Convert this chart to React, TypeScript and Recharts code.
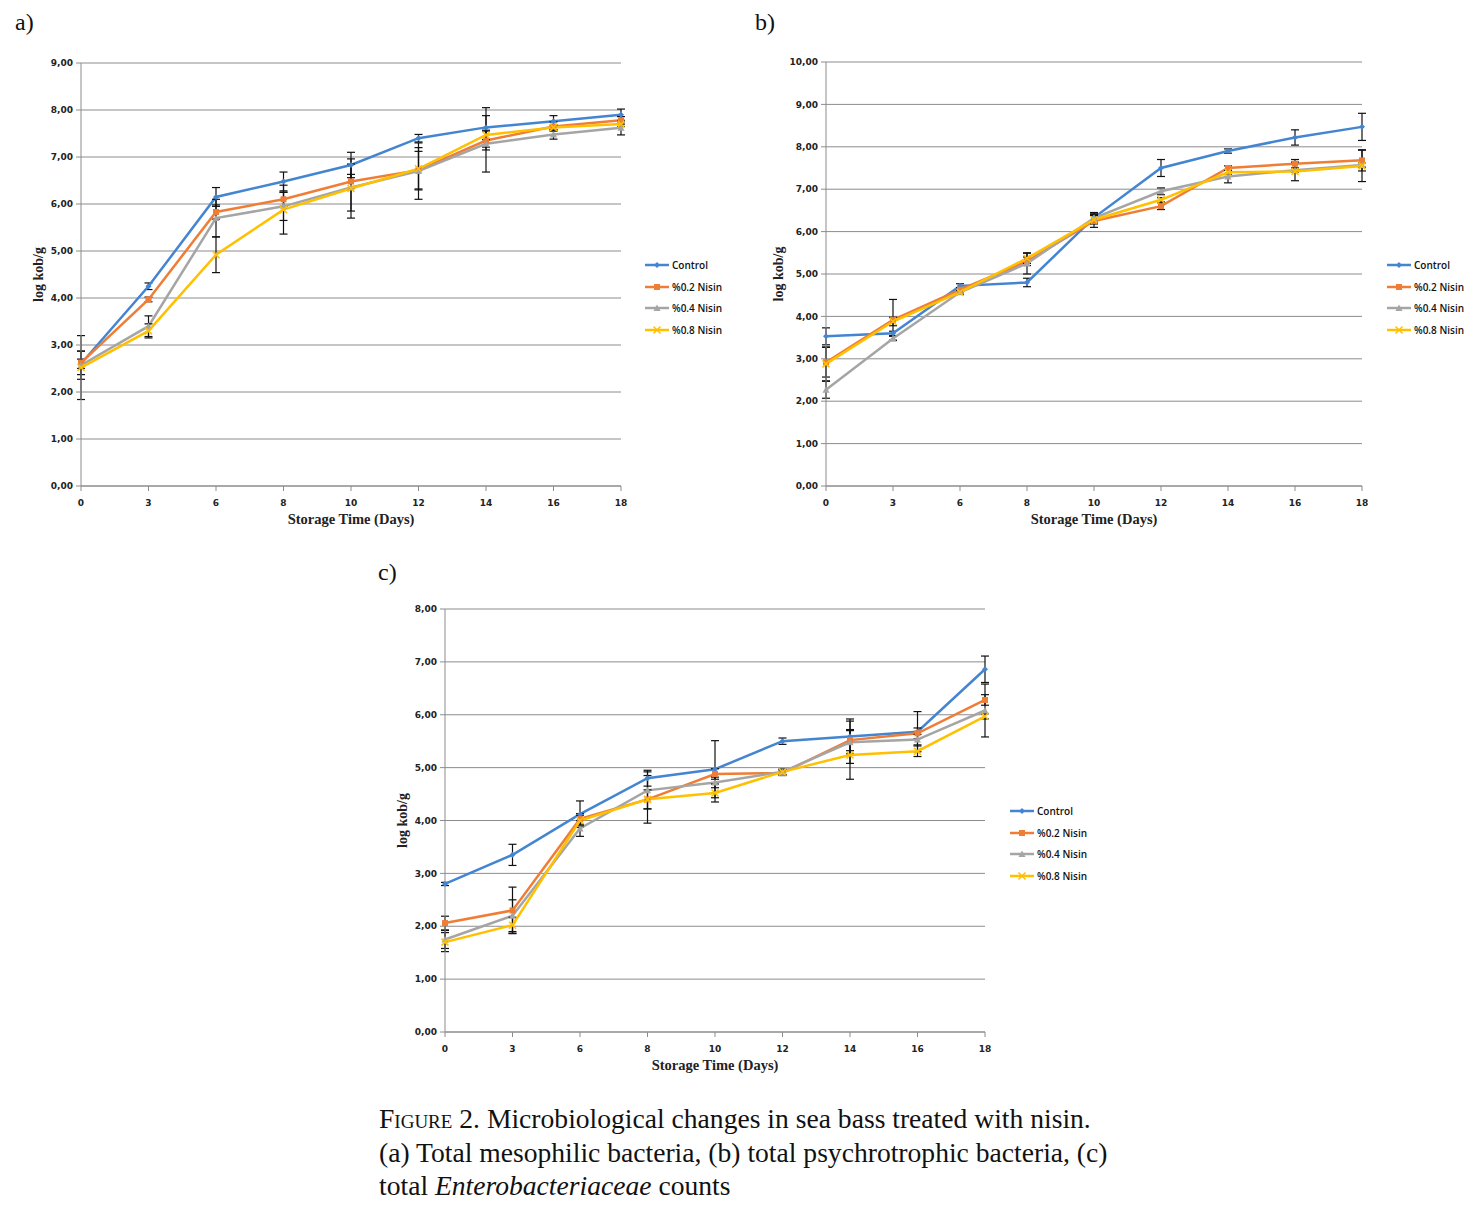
import React from "react";
import {
  LineChart,
  Line,
  XAxis,
  YAxis,
  CartesianGrid,
  ErrorBar,
} from "recharts";

// storage days (categorical axis, evenly spaced)
const DAYS = ["0", "3", "6", "8", "10", "12", "14", "16", "18"];

const SERIES_NAMES = ["Control", "%0.2 Nisin", "%0.4 Nisin", "%0.8 Nisin"];
const SERIES_COLORS = ["#4485D1", "#F07D35", "#A5A5A5", "#FFC000"];
const SERIES_SHAPES = ["diamond", "square", "triangle", "x"];

// a) total mesophilic bacteria
const A_CONTROL = [2.6, 4.25, 6.15, 6.48, 6.83, 7.4, 7.63, 7.76, 7.9];
const A_NISIN_02 = [2.62, 3.97, 5.83, 6.1, 6.48, 6.72, 7.35, 7.65, 7.78];
const A_NISIN_04 = [2.57, 3.4, 5.7, 5.95, 6.35, 6.7, 7.28, 7.48, 7.62];
const A_NISIN_08 = [2.52, 3.3, 4.92, 5.88, 6.33, 6.75, 7.47, 7.63, 7.7];
const A_CONTROL_ERR = [0.1, 0.07, 0.2, 0.2, 0.27, 0.08, 0.42, 0.12, 0.12];
const A_NISIN_02_ERR = [0.25, 0.05, 0.15, 0.15, 0.15, 0.4, 0.2, 0.1, 0.08];
const A_NISIN_04_ERR = [0.3, 0.22, 0.4, 0.3, 0.5, 0.6, 0.6, 0.1, 0.15];
const A_NISIN_08_ERR = [0.68, 0.15, 0.38, 0.52, 0.63, 0.45, 0.1, 0.05, 0.05];

// b) total psychrotrophic bacteria
const B_CONTROL = [3.53, 3.6, 4.72, 4.8, 6.33, 7.5, 7.9, 8.22, 8.47];
const B_NISIN_02 = [2.92, 3.92, 4.63, 5.3, 6.25, 6.6, 7.5, 7.6, 7.68];
const B_NISIN_04 = [2.27, 3.48, 4.57, 5.25, 6.32, 6.95, 7.3, 7.45, 7.57];
const B_NISIN_08 = [2.88, 3.88, 4.57, 5.37, 6.28, 6.75, 7.4, 7.42, 7.55];
const B_CONTROL_ERR = [0.2, 0.05, 0.05, 0.1, 0.12, 0.2, 0.05, 0.18, 0.32];
const B_NISIN_02_ERR = [0.35, 0.48, 0.05, 0.1, 0.15, 0.08, 0.05, 0.1, 0.25];
const B_NISIN_04_ERR = [0.2, 0.05, 0.05, 0.25, 0.1, 0.08, 0.15, 0.05, 0.05];
const B_NISIN_08_ERR = [0.4, 0.1, 0.05, 0.12, 0.1, 0.05, 0.05, 0.22, 0.37];

// c) total Enterobacteriaceae
const C_CONTROL = [2.8, 3.35, 4.12, 4.8, 4.97, 5.5, 5.59, 5.68, 6.86];
const C_NISIN_02 = [2.06, 2.3, 4.03, 4.4, 4.88, 4.9, 5.52, 5.65, 6.28];
const C_NISIN_04 = [1.75, 2.2, 3.85, 4.57, 4.72, 4.92, 5.48, 5.53, 6.08];
const C_NISIN_08 = [1.7, 2.02, 4.0, 4.4, 4.52, 4.92, 5.24, 5.31, 5.97];
const C_CONTROL_ERR = [0.03, 0.2, 0.25, 0.15, 0.54, 0.06, 0.33, 0.38, 0.25];
const C_NISIN_02_ERR = [0.13, 0.44, 0.1, 0.45, 0.1, 0.05, 0.2, 0.1, 0.1];
const C_NISIN_04_ERR = [0.17, 0.3, 0.15, 0.35, 0.1, 0.05, 0.4, 0.1, 0.5];
const C_NISIN_08_ERR = [0.18, 0.15, 0.1, 0.18, 0.17, 0.05, 0.46, 0.1, 0.05];

const A_TICKS = [0, 1, 2, 3, 4, 5, 6, 7, 8, 9];
const B_TICKS = [0, 1, 2, 3, 4, 5, 6, 7, 8, 9, 10];
const C_TICKS = [0, 1, 2, 3, 4, 5, 6, 7, 8];

const GRID = "#8c8c8c";
const TICK_FONT = { fontFamily: "DejaVu Sans", fontSize: 9, fontWeight: 700, fill: "#222" };
const TITLE_FONT = { fontFamily: "Liberation Serif", fontWeight: 700, fill: "#222" };

function makeRows(values: number[][], errors: number[][]) {
  return DAYS.map((day, i) => {
    const row: Record<string, any> = { day };
    values.forEach((v, s) => {
      row["s" + s] = v[i];
      row["e" + s] = errors[s][i];
    });
    return row;
  });
}

function Marker({ cx, cy, shape, color }: { cx: number; cy: number; shape: string; color: string }) {
  if (cx == null || cy == null) return null;
  if (shape === "diamond")
    return <path d={`M${cx},${cy - 3}L${cx + 3},${cy}L${cx},${cy + 3}L${cx - 3},${cy}Z`} fill={color} />;
  if (shape === "square") return <rect x={cx - 3} y={cy - 3} width={6} height={6} fill={color} />;
  if (shape === "triangle")
    return <path d={`M${cx},${cy - 3.5}L${cx + 3.5},${cy + 3}L${cx - 3.5},${cy + 3}Z`} fill={color} />;
  return (
    <path
      d={`M${cx - 3.5},${cy - 3.5}L${cx + 3.5},${cy + 3.5}M${cx + 3.5},${cy - 3.5}L${cx - 3.5},${cy + 3.5}`}
      stroke={color}
      strokeWidth={1.5}
    />
  );
}

function Legend({ x, y }: { x: number; y: number }) {
  return (
    <div style={{ position: "absolute", left: x, top: y - 10 }}>
      {SERIES_NAMES.map((name, i) => (
        <div key={name} style={{ display: "flex", alignItems: "center", height: 21.7 }}>
          <svg width={26} height={10}>
            <line x1={0} y1={5} x2={24} y2={5} stroke={SERIES_COLORS[i]} strokeWidth={2.5} />
            <Marker cx={12} cy={5} shape={SERIES_SHAPES[i]} color={SERIES_COLORS[i]} />
          </svg>
          <span
            style={{
              fontFamily: "Open Sans",
              fontSize: 10,
              fontWeight: 600,
              color: "#111",
              marginLeft: 1,
              whiteSpace: "nowrap",
            }}
          >
            {name}
          </span>
        </div>
      ))}
    </div>
  );
}

type PanelProps = {
  plotLeft: number;
  plotTop: number;
  plotWidth: number;
  plotHeight: number;
  yTicks: number[];
  rows: Record<string, any>[];
  yLabelX: number;
  legendX: number;
  legendY: number;
};

function Panel({ plotLeft, plotTop, plotWidth, plotHeight, yTicks, rows, yLabelX, legendX, legendY }: PanelProps) {
  const yAxisWidth = 45;
  const marginLeft = 36;
  const left = plotLeft - yAxisWidth - marginLeft;
  const top = plotTop - 20;
  const width = plotWidth + yAxisWidth + marginLeft + 10;
  const height = plotHeight + 20 + 48;
  const yMax = yTicks[yTicks.length - 1];
  return (
    <>
      <div style={{ position: "absolute", left, top }}>
        <LineChart
          width={width}
          height={height}
          data={rows}
          margin={{ top: 20, right: 10, left: marginLeft, bottom: 4 }}
        >
          <CartesianGrid vertical={false} stroke={GRID} strokeWidth={1} />
          <XAxis
            dataKey="day"
            height={44}
            stroke={GRID}
            tickSize={5}
            tickMargin={9}
            tick={TICK_FONT}
            interval={0}
            label={{
              value: "Storage Time  (Days)",
              position: "insideBottom",
              offset: 6,
              style: { ...TITLE_FONT, fontSize: 14.5 },
            }}
          />
          <YAxis
            width={yAxisWidth}
            domain={[0, yMax]}
            ticks={yTicks}
            interval={0}
            stroke={GRID}
            tickSize={5}
            tickMargin={3}
            tick={TICK_FONT}
            tickFormatter={(v: number) => v.toFixed(2).replace(".", ",")}
            label={{
              value: "log kob/g",
              angle: -90,
              position: "insideLeft",
              offset: yLabelX - (plotLeft - yAxisWidth),
              style: { ...TITLE_FONT, fontSize: 14, textAnchor: "middle" },
            }}
          />
          {SERIES_NAMES.map((name, s) => (
            <Line
              key={name}
              dataKey={"s" + s}
              name={name}
              stroke={SERIES_COLORS[s]}
              strokeWidth={2.5}
              isAnimationActive={false}
              dot={(p: any) => (
                <Marker
                  key={`${s}-${p.index}`}
                  cx={p.cx}
                  cy={p.cy}
                  shape={SERIES_SHAPES[s]}
                  color={SERIES_COLORS[s]}
                />
              )}
              activeDot={false}
            >
              <ErrorBar
                dataKey={"e" + s}
                direction="y"
                width={4}
                stroke="#111"
                strokeWidth={1.2}
                isAnimationActive={false}
              />
            </Line>
          ))}
        </LineChart>
      </div>
      <Legend x={legendX} y={legendY} />
    </>
  );
}

const panelLabel: React.CSSProperties = {
  position: "absolute",
  fontFamily: "Liberation Serif",
  fontSize: 24,
  lineHeight: "28px",
  color: "#111",
};

export default function App() {
  const rowsA = makeRows(
    [A_CONTROL, A_NISIN_02, A_NISIN_04, A_NISIN_08],
    [A_CONTROL_ERR, A_NISIN_02_ERR, A_NISIN_04_ERR, A_NISIN_08_ERR]
  );
  const rowsB = makeRows(
    [B_CONTROL, B_NISIN_02, B_NISIN_04, B_NISIN_08],
    [B_CONTROL_ERR, B_NISIN_02_ERR, B_NISIN_04_ERR, B_NISIN_08_ERR]
  );
  const rowsC = makeRows(
    [C_CONTROL, C_NISIN_02, C_NISIN_04, C_NISIN_08],
    [C_CONTROL_ERR, C_NISIN_02_ERR, C_NISIN_04_ERR, C_NISIN_08_ERR]
  );

  return (
    <div
      style={{
        position: "absolute",
        left: 0,
        top: 0,
        width: 1481,
        height: 1224,
        background: "#fff",
        overflow: "hidden",
      }}
    >
      <div style={{ ...panelLabel, left: 15, top: 8 }}>a)</div>
      <div style={{ ...panelLabel, left: 755, top: 8 }}>b)</div>
      <div style={{ ...panelLabel, left: 378, top: 558 }}>c)</div>

      <Panel
        plotLeft={81}
        plotTop={63}
        plotWidth={540}
        plotHeight={423}
        yTicks={A_TICKS}
        rows={rowsA}
        yLabelX={38}
        legendX={645}
        legendY={264}
      />
      <Panel
        plotLeft={826}
        plotTop={62}
        plotWidth={536}
        plotHeight={424}
        yTicks={B_TICKS}
        rows={rowsB}
        yLabelX={778}
        legendX={1387}
        legendY={264}
      />
      <Panel
        plotLeft={445}
        plotTop={609}
        plotWidth={540}
        plotHeight={423}
        yTicks={C_TICKS}
        rows={rowsC}
        yLabelX={402}
        legendX={1010}
        legendY={810}
      />

      <div
        style={{
          position: "absolute",
          left: 379,
          top: 1102,
          fontFamily: "Liberation Serif",
          fontSize: 27.6,
          lineHeight: "33.5px",
          color: "#111",
          whiteSpace: "nowrap",
        }}
      >
        <div>
          <span style={{ fontVariant: "small-caps" }}>Figure</span> 2. Microbiological changes in sea bass treated with nisin.
        </div>
        <div>(a) Total mesophilic bacteria, (b) total psychrotrophic bacteria, (c)</div>
        <div>
          total <i>Enterobacteriaceae</i> counts
        </div>
      </div>
    </div>
  );
}
